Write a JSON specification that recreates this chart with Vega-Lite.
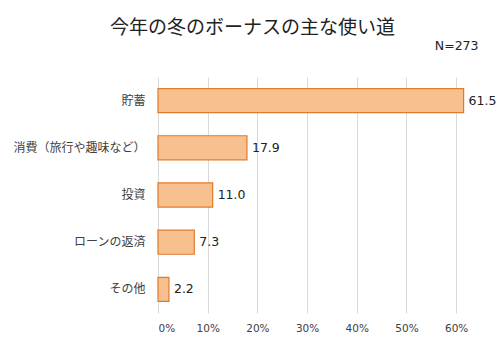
{
  "$schema": "https://vega.github.io/schema/vega-lite/v6.json",
  "width": 323,
  "height": 236,
  "autosize": {"type": "none"},
  "padding": {"left": 158, "top": 77, "right": 19, "bottom": 40},
  "background": "white",
  "config": {
    "font": "Noto Sans CJK JP",
    "view": {"stroke": null}
  },
  "title": {
    "text": "今年の冬のボーナスの主な使い道",
    "fontSize": 19,
    "fontWeight": "normal",
    "color": "#222222",
    "anchor": "middle",
    "dx": -67,
    "offset": 1
  },
  "data": {
    "values": [
      {"item": "貯蓄", "value": 61.5},
      {"item": "消費（旅行や趣味など）", "value": 17.9},
      {"item": "投資", "value": 11.0},
      {"item": "ローンの返済", "value": 7.3},
      {"item": "その他", "value": 2.2}
    ]
  },
  "encoding": {
    "y": {
      "field": "item",
      "type": "nominal",
      "sort": null,
      "scale": {"paddingInner": 0.49, "paddingOuter": 0.245},
      "axis": {
        "title": null,
        "domain": false,
        "ticks": false,
        "labelPadding": 13,
        "labelFontSize": 12,
        "labelColor": "#404040"
      }
    }
  },
  "layer": [
    {
      "mark": {"type": "bar", "fill": "#F9C08F", "stroke": "#E07B2A", "strokeWidth": 1.2},
      "encoding": {
        "x": {
          "field": "value",
          "type": "quantitative",
          "scale": {"domain": [0, 65], "nice": false},
          "axis": {
            "orient": "bottom",
            "title": null,
            "values": [0, 10, 20, 30, 40, 50, 60],
            "labelExpr": "datum.value + '%'",
            "domain": false,
            "ticks": false,
            "grid": true,
            "gridColor": "#D9D9D9",
            "labelPadding": 10,
            "labelFont": "DejaVu Sans",
            "labelFontSize": 10.5,
            "labelColor": "#404040"
          }
        }
      }
    },
    {
      "mark": {"type": "text", "align": "left", "dx": 5, "font": "DejaVu Sans", "fontSize": 12.5, "color": "#222222"},
      "encoding": {
        "x": {
          "field": "value",
          "type": "quantitative",
          "axis": {
            "orient": "top",
            "title": "N=273",
            "titleAnchor": "end",
            "titleFont": "DejaVu Sans",
            "titleFontSize": 12.5,
            "titleFontWeight": "normal",
            "titleColor": "#222222",
            "titlePadding": 25,
            "titleX": 320,
            "titleAlign": "right",
            "labels": false,
            "ticks": false,
            "grid": false,
            "domain": false
          }
        },
        "text": {"field": "value", "type": "quantitative", "format": ".1f"}
      }
    }
  ],
  "resolve": {"axis": {"x": "independent"}}
}
